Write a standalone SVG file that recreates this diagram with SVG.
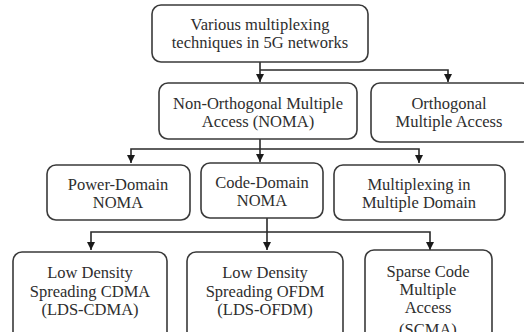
<svg xmlns="http://www.w3.org/2000/svg" width="524" height="332" viewBox="0 0 524 332">
<defs>
<style>
.box{fill:#fff;stroke:#3a3a3a;stroke-width:1.6}
.t{font-family:"Liberation Serif","Times New Roman",serif;font-size:16.5px;fill:#2e2e2e;text-anchor:middle}
.c{fill:none;stroke:#2a2a2a;stroke-width:1.6}
</style>
<marker id="ah" viewBox="0 0 10 10" refX="10" refY="5" markerWidth="8" markerHeight="8" markerUnits="userSpaceOnUse" orient="auto">
<path d="M0,0 L10,5 L0,10 z" fill="#1a1a1a"/>
</marker>
</defs>
<rect width="524" height="332" fill="#fff"/>
<g id="connectors">
<path class="c" d="M260,62 V82" marker-end="url(#ah)"/>
<path class="c" d="M260,70 H448 V82" marker-end="url(#ah)"/>
<path class="c" d="M260,139 V162" marker-end="url(#ah)"/>
<path class="c" d="M260,149 H131 V163" marker-end="url(#ah)"/>
<path class="c" d="M260,149 H419 V163" marker-end="url(#ah)"/>
<path class="c" d="M267,218 V250" marker-end="url(#ah)"/>
<path class="c" d="M267,232 H91 V250" marker-end="url(#ah)"/>
<path class="c" d="M267,232 H430 V250" marker-end="url(#ah)"/>
</g>
<g id="root">
<rect class="box" x="152" y="5" width="216" height="57" rx="9"/>
<text class="t" x="260" y="30">Various multiplexing</text>
<text class="t" x="260" y="48">techniques in 5G networks</text>
</g>
<g id="noma">
<rect class="box" x="159" y="83" width="198" height="56" rx="9"/>
<text class="t" x="258" y="109">Non-Orthogonal Multiple</text>
<text class="t" x="258" y="127">Access (NOMA)</text>
</g>
<g id="oma">
<rect class="box" x="371" y="83" width="160" height="59" rx="9"/>
<text class="t" x="449" y="109">Orthogonal</text>
<text class="t" x="449" y="127">Multiple Access</text>
</g>
<g id="power">
<rect class="box" x="47" y="165" width="143" height="55" rx="9"/>
<text class="t" x="118" y="190">Power-Domain</text>
<text class="t" x="118" y="208">NOMA</text>
</g>
<g id="code">
<rect class="box" x="201" y="163" width="122" height="55" rx="9"/>
<text class="t" x="262" y="188">Code-Domain</text>
<text class="t" x="262" y="206">NOMA</text>
</g>
<g id="multi">
<rect class="box" x="334" y="165" width="171" height="55" rx="9"/>
<text class="t" x="419" y="190">Multiplexing in</text>
<text class="t" x="419" y="208">Multiple Domain</text>
</g>
<g id="ldscdma">
<rect class="box" x="13" y="252" width="154" height="90" rx="9"/>
<text class="t" x="90" y="278">Low Density</text>
<text class="t" x="90" y="297">Spreading CDMA</text>
<text class="t" x="90" y="315">(LDS-CDMA)</text>
</g>
<g id="ldsofdm">
<rect class="box" x="187" y="252" width="156" height="90" rx="9"/>
<text class="t" x="265" y="278">Low Density</text>
<text class="t" x="265" y="297">Spreading OFDM</text>
<text class="t" x="265" y="315">(LDS-OFDM)</text>
</g>
<g id="scma">
<rect class="box" x="365" y="250" width="127" height="92" rx="9"/>
<text class="t" x="428" y="277">Sparse Code</text>
<text class="t" x="428" y="295">Multiple</text>
<text class="t" x="428" y="313">Access</text>
<text class="t" x="428" y="335">(SCMA)</text>
</g>
</svg>
